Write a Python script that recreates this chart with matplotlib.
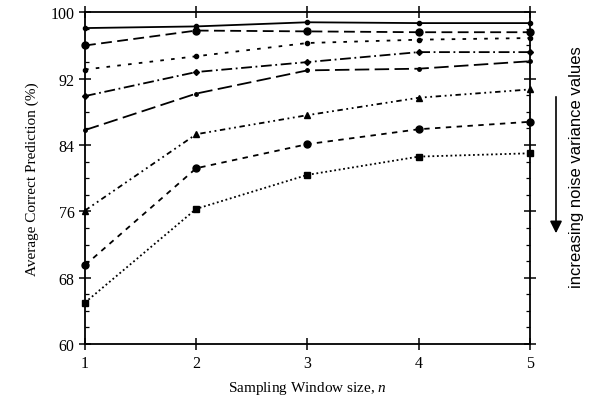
import matplotlib
matplotlib.use("Agg")
import matplotlib.pyplot as plt
from matplotlib.ticker import MultipleLocator

plt.rcParams["font.family"] = ["Liberation Serif", "DejaVu Serif"]
plt.rcParams["mathtext.fontset"] = "custom"
plt.rcParams["mathtext.it"] = "Liberation Serif:italic"
plt.rcParams["mathtext.rm"] = "Liberation Serif"

window = [1, 2, 3, 4, 5]
y_ticks = [60, 68, 76, 84, 92, 100]

# one curve per noise level, lowest noise first
acc_1 = [98.1, 98.3, 98.8, 98.7, 98.7]
acc_2 = [96.0, 97.8, 97.7, 97.6, 97.6]
acc_3 = [93.1, 94.7, 96.3, 96.7, 96.9]
acc_4 = [89.9, 92.8, 94.0, 95.2, 95.2]
acc_5 = [85.8, 90.2, 93.0, 93.2, 94.1]
acc_6 = [76.1, 85.3, 87.6, 89.7, 90.7]
acc_7 = [69.5, 81.2, 84.1, 85.9, 86.8]
acc_8 = [65.0, 76.3, 80.4, 82.6, 83.0]

series = [acc_1, acc_2, acc_3, acc_4, acc_5, acc_6, acc_7, acc_8]
styles = [
    dict(ls="-", marker="o", ms=3),
    dict(ls=(0, (6, 3)), marker="o", ms=5),
    dict(ls=(0, (2, 4)), marker="o", ms=3),
    dict(ls=(0, (6, 2, 1, 2)), marker="D", ms=3),
    dict(ls=(0, (8, 3)), marker="o", ms=2.5),
    dict(ls=(0, (3, 2, 1, 2, 1, 2)), marker="^", ms=4),
    dict(ls=(0, (3, 3)), marker="o", ms=5),
    dict(ls=(0, (1, 1.5)), marker="s", ms=4),
]

fig = plt.figure(figsize=(5.89, 4.06), dpi=100)
ax = fig.add_axes([0.1443, 0.1502, 0.7555, 0.817])

for vals, st in zip(series, styles):
    ax.plot(window, vals, color="black", lw=1.3, clip_on=False, **st)

ax.set_xlim(1, 5)
ax.set_ylim(60, 100)
ax.set_xticks(window)
ax.set_yticks(y_ticks)
ax.yaxis.set_minor_locator(MultipleLocator(2))

for s in ax.spines.values():
    s.set_linewidth(1.3)

ax.tick_params(axis="both", which="major", direction="inout", length=8,
               width=1.1, labelsize=11.5, top=True, right=True)
ax.tick_params(axis="y", which="minor", direction="in", length=3,
               width=0.9, right=True)
ax.tick_params(axis="x", which="major", pad=4)

ax.set_xlabel("Sampling Window size, $\\it{n}$", fontsize=11, labelpad=6)
ax.set_ylabel("Average Correct Prediction (%)", fontsize=11, labelpad=8)

ax.annotate("", xy=(556, 406 - 237), xytext=(556, 406 - 95),
            xycoords="figure pixels",
            arrowprops=dict(arrowstyle="-|>", color="black", lw=1.2,
                            mutation_scale=18))
fig.text(577 / 589, 1 - 167 / 406, "increasing noise variance values",
         rotation=90, ha="center", va="center", fontsize=12,
         family=["Liberation Sans", "DejaVu Sans"])

fig.savefig("out.png", dpi=100)
